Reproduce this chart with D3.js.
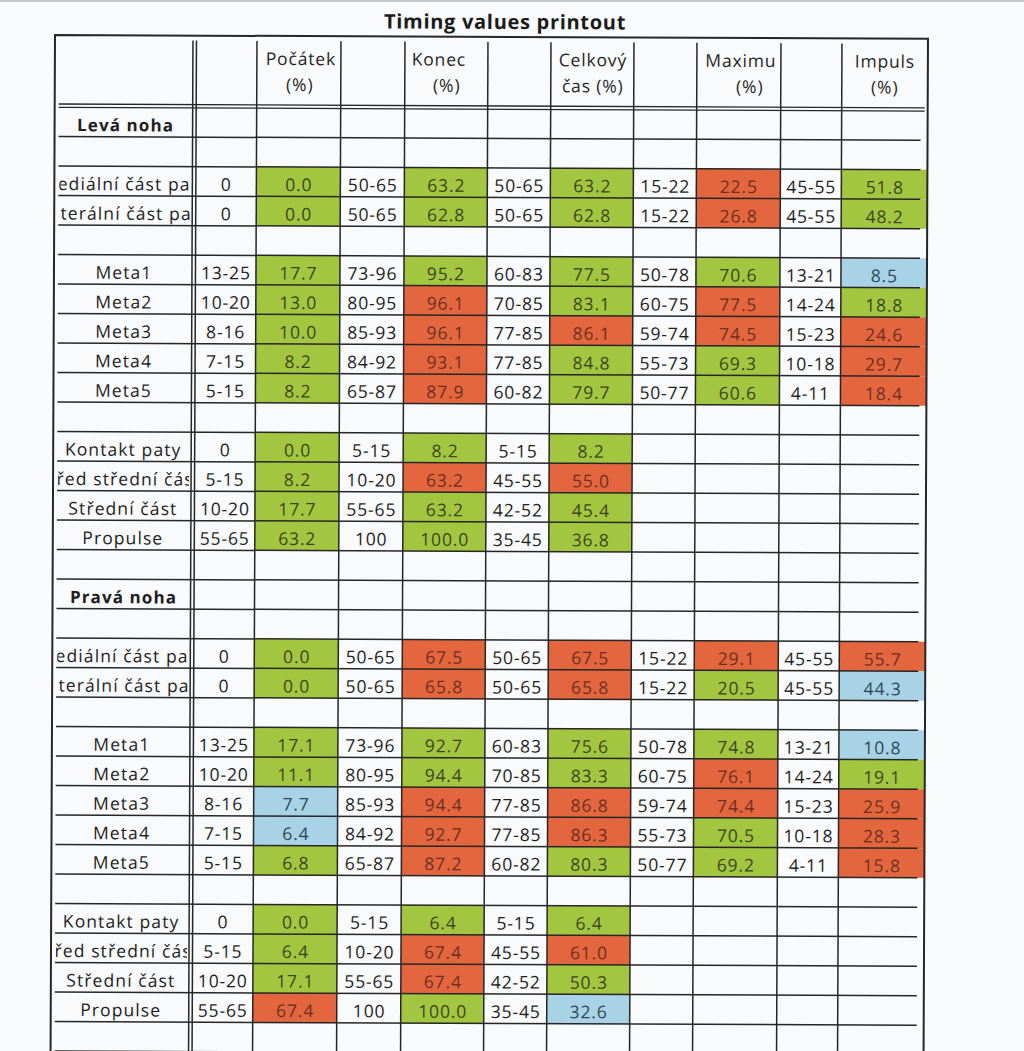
<!DOCTYPE html>
<html><head><meta charset="utf-8">
<script src="https://cdn.jsdelivr.net/npm/d3@7"></script>
<style>body{margin:0;background:#f9fafb;overflow:hidden} svg{display:block}</style>
</head><body>
<script>
// ---------- DATA ----------
const title = "Timing values printout";
const headerLines = [["Počátek","(%)"],["Konec","(%)"],["Celkový","čas (%)"],["Maximu","(%)"],["Impuls","(%)"]];
const footNames = ["Levá noha","Pravá noha"];
const segments = ["Mediální část paty","Laterální část paty","","Meta1","Meta2","Meta3","Meta4","Meta5","","Kontakt paty","Před střední část","Střední část","Propulse"];

const normPocatek = ["0","0","","13-25","10-20","8-16","7-15","5-15","","0","5-15","10-20","55-65"];
const normKonec   = ["50-65","50-65","","73-96","80-95","85-93","84-92","65-87","","5-15","10-20","55-65","100"];
const normCelkovy = ["50-65","50-65","","60-83","70-85","77-85","77-85","60-82","","5-15","45-55","42-52","35-45"];
const normMaximum = ["15-22","15-22","","50-78","60-75","59-74","55-73","50-77","","","","",""];
const normImpuls  = ["45-55","45-55","","13-21","14-24","15-23","10-18","4-11","","","","",""];

const levaPocatek = [0.0,0.0,null,17.7,13.0,10.0,8.2,8.2,null,0.0,8.2,17.7,63.2];
const levaKonec   = [63.2,62.8,null,95.2,96.1,96.1,93.1,87.9,null,8.2,63.2,63.2,100.0];
const levaCelkovy = [63.2,62.8,null,77.5,83.1,86.1,84.8,79.7,null,8.2,55.0,45.4,36.8];
const levaMaximum = [22.5,26.8,null,70.6,77.5,74.5,69.3,60.6,null,null,null,null,null];
const levaImpuls  = [51.8,48.2,null,8.5,18.8,24.6,29.7,18.4,null,null,null,null,null];

const pravaPocatek = [0.0,0.0,null,17.1,11.1,7.7,6.4,6.8,null,0.0,6.4,17.1,67.4];
const pravaKonec   = [67.5,65.8,null,92.7,94.4,94.4,92.7,87.2,null,6.4,67.4,67.4,100.0];
const pravaCelkovy = [67.5,65.8,null,75.6,83.3,86.8,86.3,80.3,null,6.4,61.0,50.3,32.6];
const pravaMaximum = [29.1,20.5,null,74.8,76.1,74.4,70.5,69.2,null,null,null,null,null];
const pravaImpuls  = [55.7,44.3,null,10.8,19.1,25.9,28.3,15.8,null,null,null,null,null];

// status: G = in range, R = above, B = below
const levaPocatekStatus = ["G","G","","G","G","G","G","G","","G","G","G","G"];
const levaKonecStatus   = ["G","G","","G","R","R","R","R","","G","R","G","G"];
const levaCelkovyStatus = ["G","G","","G","G","R","G","G","","G","R","G","G"];
const levaMaximumStatus = ["R","R","","G","R","R","G","G","","","","",""];
const levaImpulsStatus  = ["G","G","","B","G","R","R","R","","","","",""];

const pravaPocatekStatus = ["G","G","","G","G","B","B","G","","G","G","G","R"];
const pravaKonecStatus   = ["R","R","","G","G","R","R","R","","G","R","R","G"];
const pravaCelkovyStatus = ["R","R","","G","G","R","R","G","","G","R","G","B"];
const pravaMaximumStatus = ["R","G","","G","R","R","G","G","","","","",""];
const pravaImpulsStatus  = ["R","B","","B","G","R","R","R","","","","",""];

// ---------- BUILD ROWS ----------
const norms = [normPocatek,normKonec,normCelkovy,normMaximum,normImpuls];
const footVals = [[levaPocatek,levaKonec,levaCelkovy,levaMaximum,levaImpuls],
                  [pravaPocatek,pravaKonec,pravaCelkovy,pravaMaximum,pravaImpuls]];
const footStat = [[levaPocatekStatus,levaKonecStatus,levaCelkovyStatus,levaMaximumStatus,levaImpulsStatus],
                  [pravaPocatekStatus,pravaKonecStatus,pravaCelkovyStatus,pravaMaximumStatus,pravaImpulsStatus]];
const rows = [];
footNames.forEach((fn,f)=>{
  rows.push({type:"foot",label:fn});
  rows.push({type:"blank"});
  segments.forEach((s,i)=>{
    if(s===""){rows.push({type:"blank"});return;}
    rows.push({type:"data",label:s,
      norms:norms.map(n=>n[i]),
      values:footVals[f].map(v=>v[i]),
      status:footStat[f].map(st=>st[i])});
  });
  rows.push({type:"blank"});
});

// ---------- LAYOUT ----------
const W=1024,H=1051;
const svg=d3.select("body").append("svg").attr("width",W).attr("height",H);
svg.append("rect").attr("width",W).attr("height",H).attr("fill","#f9fafb");
svg.append("rect").attr("x",0).attr("y",0).attr("width",W).attr("height",2).attr("fill","#c4c6c8");

const FONT="'Open Sans', 'Noto Sans', sans-serif";
const FS=17.5, LS=0.85;
const g=svg.append("g").attr("transform","rotate(0.25,55,35)");

const tableTop=35, headBottom=107, rowH=29.5;
const y=d3.scaleBand().domain(d3.range(rows.length)).range([headBottom, headBottom+rows.length*rowH]);
const colKeys=["n0","v0","n1","v1","n2","v2","n3","v3","n4","v4"];
const colEdges=[196,257,341,405,488,551,634,697,781,842,928];
const xCol=d3.scaleOrdinal().domain(colKeys).range(colEdges.slice(0,10));
const wCol=d3.scaleOrdinal().domain(colKeys).range(colEdges.slice(1).map((e,i)=>e-colEdges[i]));
const color=d3.scaleOrdinal().domain(["G","R","B"]).range(["#a3c640","#e4663f","#a8d2e6"]);
const fmt=d3.format(".1f");

// title
g.append("text").attr("x",505).attr("y",27).attr("text-anchor","middle")
 .attr("font-family",FONT).attr("font-weight",700).attr("font-size",20).attr("letter-spacing",0.7)
 .attr("fill","#1b1b1b").text(title);

// colored cells
const cells=[];
rows.forEach((r,i)=>{ if(r.type!=="data")return;
  r.values.forEach((v,k)=>{ if(v!==null) cells.push({row:i,col:"v"+k,v,st:r.status[k]}); });
});
g.selectAll("rect.cell").data(cells).join("rect").attr("class","cell")
 .attr("x",d=>xCol(d.col)).attr("y",d=>y(d.row))
 .attr("width",d=>wCol(d.col)).attr("height",y.bandwidth())
 .attr("fill",d=>color(d.st));

// lines
const LC="#262626";
const bottom=1070;
g.selectAll("line.rowline").data(d3.range(rows.length)).join("line").attr("class","rowline")
 .attr("x1",59).attr("x2",921).attr("y1",i=>y(i)+rowH).attr("y2",i=>y(i)+rowH)
 .attr("stroke",LC).attr("stroke-width",1.5);
[104,107.3].forEach(yy=>g.append("line").attr("x1",59).attr("x2",925).attr("y1",yy).attr("y2",yy).attr("stroke",LC).attr("stroke-width",1.3));
[193,196.5].concat(colEdges.slice(1,10)).forEach(xx=>g.append("line").attr("x1",xx).attr("x2",xx).attr("y1",40).attr("y2",bottom).attr("stroke",LC).attr("stroke-width",1.5));
g.append("path").attr("d",`M55,${bottom}V${tableTop}H928V${bottom}`).attr("fill","none").attr("stroke",LC).attr("stroke-width",2);

// header text
const hdrCenters=[300,442,593,741,885];
const hdrDx=[[1,0],[-3,5],[0,0],[0,9],[0,0]];
headerLines.forEach((ls,k)=>{
  ls.forEach((t,j)=>{
    g.append("text").attr("x",hdrCenters[k]+hdrDx[k][j]).attr("y",j===0?64:90)
     .attr("text-anchor","middle").attr("font-family",FONT).attr("font-size",FS).attr("letter-spacing",LS)
     .attr("fill","#262626").text(t);
  });
});

// label clip
svg.append("defs").append("clipPath").attr("id","lblclip").append("rect")
 .attr("x",60).attr("y",headBottom).attr("width",131).attr("height",rows.length*rowH);

const lbl=g.append("g").attr("clip-path","url(#lblclip)");
rows.forEach((r,i)=>{
  const by=y(i)+rowH-5.5;
  if(r.type==="foot"){
    lbl.append("text").attr("x",126).attr("y",by).attr("text-anchor","middle")
      .attr("font-family",FONT).attr("font-weight",700).attr("font-size",17).attr("letter-spacing",1.1)
      .attr("fill","#1e1e1e").text(r.label);
  } else if(r.type==="data"){
    lbl.append("text").attr("x",125).attr("y",by).attr("text-anchor","middle")
      .attr("font-family",FONT).attr("font-size",FS).attr("letter-spacing",1.1)
      .attr("fill","#1e1e1e").text(r.label);
  }
});

// norm and value texts
const texts=[];
rows.forEach((r,i)=>{ if(r.type!=="data")return;
  r.norms.forEach((n,k)=>{ if(n!=="") texts.push({row:i,col:"n"+k,t:n,st:null}); });
  r.values.forEach((v,k)=>{ if(v!==null) texts.push({row:i,col:"v"+k,t:fmt(v),st:r.status[k]}); });
});
const txtColor={G:"#3b4521",R:"#6e2f22",B:"#2e4756"};
g.selectAll("text.cv").data(texts).join("text").attr("class","cv")
 .attr("x",d=>xCol(d.col)+wCol(d.col)/2+LS/2).attr("y",d=>y(d.row)+rowH-5.5)
 .attr("text-anchor","middle").attr("font-family",FONT).attr("font-size",FS).attr("letter-spacing",LS)
 .attr("fill",d=>d.st?txtColor[d.st]:"#1e1e1e").text(d=>d.t);
</script>
</body></html>
